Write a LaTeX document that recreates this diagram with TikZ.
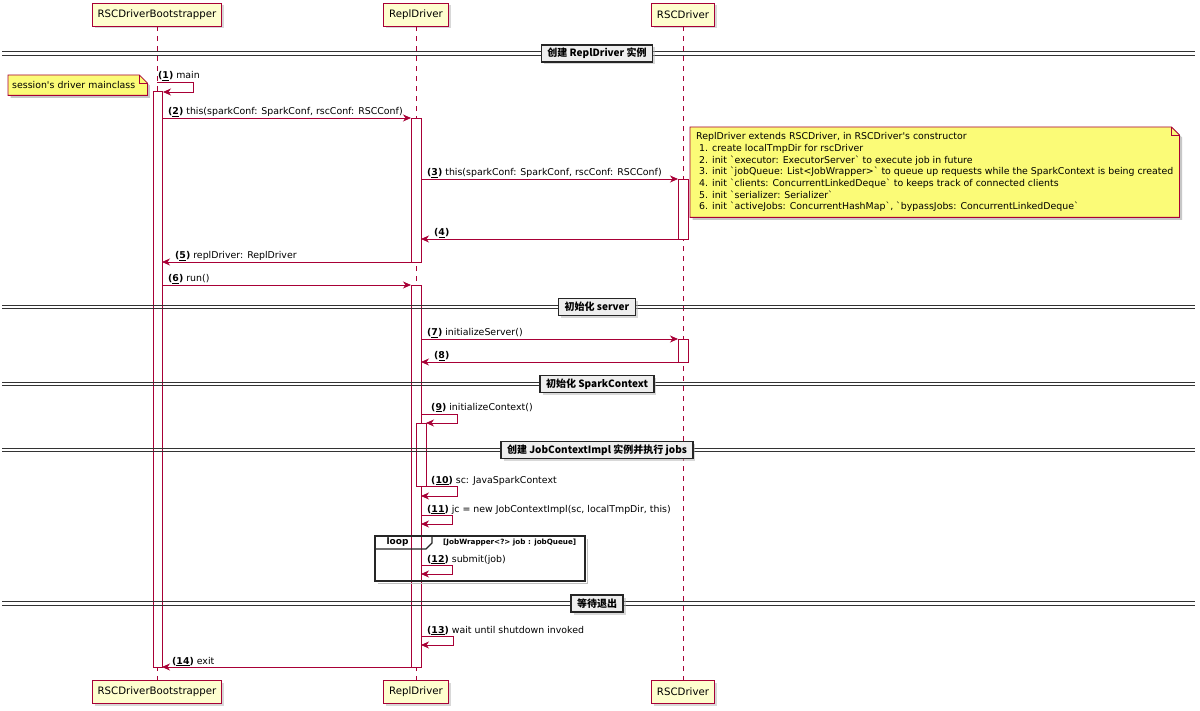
\documentclass[tikz,border=0pt]{standalone}
\usepackage{fontspec}
\setmainfont{DejaVu Sans}
\newfontfamily\cjk{Noto Sans CJK SC}
\usetikzlibrary{arrows.meta,shadows,backgrounds}
\definecolor{pu}{HTML}{A80036}
\definecolor{partfill}{HTML}{FEFECE}
\definecolor{notefill}{HTML}{FBFB77}
\definecolor{divfill}{HTML}{EEEEEE}
\newcommand\mnum[1]{\textbf{(\underline{#1})}}
\newcommand\mydivider[3]{%
  \draw[divln] (2,#1-1.6) -- (1195,#1-1.6);
  \draw[divln] (2,#1+1.6) -- (1195,#1+1.6);
  \node[divbx] (#2) at (597,#1) {#3};}
\newcommand\mynote[1]{%
  \begin{scope}[on background layer]
    \fill[black!22, transform canvas={xshift=2.5pt,yshift=-2.5pt}] (#1.north west) -- ([xshift=-8pt]#1.north east) -- ([yshift=-8pt]#1.north east) -- (#1.south east) -- (#1.south west) -- cycle;
    \filldraw[notebg] (#1.north west) -- ([xshift=-8pt]#1.north east) -- ([yshift=-8pt]#1.north east) -- (#1.south east) -- (#1.south west) -- cycle;
    \draw[notebg, fill=none] ([xshift=-8pt]#1.north east) |- ([yshift=-8pt]#1.north east);
  \end{scope}}
\begin{document}
\begin{tikzpicture}[x=1pt,y=-1pt,
  pbox/.style={draw=pu, fill=partfill, line width=0.9pt, font=\fontsize{10.2}{12}\selectfont,
    minimum height=23pt, inner xsep=5.5pt, drop shadow={shadow xshift=2.5pt, shadow yshift=-2.5pt, fill=black!30}},
  lifeln/.style={draw=pu, line width=0.6pt, dash pattern=on 5pt off 5pt},
  actbar/.style={draw=pu, fill=white, line width=0.8pt},
  msgarrow/.style={draw=pu, line width=0.8pt, -{Stealth[length=8pt,width=7pt,inset=2.5pt]}},
  msglbl/.style={font=\fontsize{9.4}{11}\selectfont, anchor=base west, inner sep=0pt},
  divln/.style={draw=black!80, line width=1pt},
  divbx/.style={draw=black!85, fill=divfill, line width=1.3pt, font=\cjk\bfseries\fontsize{10}{12}\selectfont,
    minimum height=17pt, inner xsep=6pt, inner ysep=1pt, drop shadow={shadow xshift=2.5pt, shadow yshift=-2.5pt, fill=black!30}},
  notebg/.style={draw=pu, fill=notefill, line width=0.8pt},
  notetx/.style={font=\fontsize{9.4}{11.7}\selectfont, inner ysep=3pt, align=left},
  loopfr/.style={draw=black!85, line width=1.4pt},
]
\begin{scope}[on background layer]
  \fill[white] (0,0) rectangle (1200,711);
\end{scope}
\useasboundingbox (0,0) rectangle (1200,711);

% participants
\node[pbox] (bt) at (157,14.5) {RSCDriverBootstrapper};
\node[pbox] (rt) at (416,14.5) {ReplDriver};
\node[pbox] (st) at (683,14.5) {RSCDriver};
\node[pbox] (bb) at (157,691.5) {RSCDriverBootstrapper};
\node[pbox] (rb) at (416,691.5) {ReplDriver};
\node[pbox] (sb) at (683,691.5) {RSCDriver};

% lifelines
\draw[lifeln] (bt.south) -- (bb.north);
\draw[lifeln] (rt.south) -- (rb.north);
\draw[lifeln] (st.south) -- (sb.north);

% activation bars
\draw[actbar] (153,91) rectangle (162,667);
\draw[actbar] (411,118) rectangle (421,262);
\draw[actbar] (411,285) rectangle (421,667);
\draw[actbar] (416,423) rectangle (426,486);
\draw[actbar] (678,179) rectangle (688,239);
\draw[actbar] (678,339) rectangle (688,362);

% dividers
\mydivider{53.5}{d1}{创建 ReplDriver 实例}
\mydivider{307}{d2}{初始化 server}
\mydivider{384}{d3}{初始化 SparkContext}
\mydivider{450}{d4}{创建 JobContextImpl 实例并执行 jobs}
\mydivider{603.5}{d5}{等待退出}

% notes
\node[notetx, anchor=north west, text width=131pt, inner xsep=4pt, minimum height=20pt] (n1) at (8,75) {session\textquotesingle s driver mainclass};
\mynote{n1}
\node[notetx, anchor=north west, inner xsep=6pt, minimum height=90pt] (n2) at (690,127) {%
ReplDriver extends RSCDriver, in RSCDriver\textquotesingle s constructor\\
\hspace*{3pt}1. create localTmpDir for rscDriver\\
\hspace*{3pt}2. init \textasciigrave executor: ExecutorServer\textasciigrave\ to execute job in future\\
\hspace*{3pt}3. init \textasciigrave jobQueue: List<JobWrapper>\textasciigrave\ to queue up requests while the SparkContext is being created\\
\hspace*{3pt}4. init \textasciigrave clients: ConcurrentLinkedDeque\textasciigrave\ to keeps track of connected clients\\
\hspace*{3pt}5. init \textasciigrave serializer: Serializer\textasciigrave\\
\hspace*{3pt}6. init \textasciigrave activeJobs: ConcurrentHashMap\textasciigrave, \textasciigrave bypassJobs: ConcurrentLinkedDeque\textasciigrave};
\mynote{n2}

% message endpoints
\coordinate (m1a) at (157,82);   \coordinate (m1b) at (163,92);
\coordinate (m2a) at (162,118);  \coordinate (m2b) at (411,118);
\coordinate (m3a) at (421,179);  \coordinate (m3b) at (678,179);
\coordinate (m4a) at (678,239);  \coordinate (m4b) at (421,239);
\coordinate (m5a) at (411,262);  \coordinate (m5b) at (162,262);
\coordinate (m6a) at (162,285);  \coordinate (m6b) at (411,285);
\coordinate (m7a) at (421,339);  \coordinate (m7b) at (678,339);
\coordinate (m8a) at (678,362);  \coordinate (m8b) at (421,362);
\coordinate (m9a) at (421,414);  \coordinate (m9b) at (426,423);
\coordinate (m10a) at (426,486); \coordinate (m10b) at (421,496);
\coordinate (m11a) at (421,515); \coordinate (m11b) at (421,524);
\coordinate (m12a) at (421,565); \coordinate (m12b) at (421,574);
\coordinate (m13a) at (421,636); \coordinate (m13b) at (421,645);
\coordinate (m14a) at (411,667); \coordinate (m14b) at (162,667);

% messages
\draw[msgarrow] (m1a) -- ++(36,0) |- (m1b);
\draw[msgarrow] (m2a) -- (m2b);
\draw[msgarrow] (m3a) -- (m3b);
\draw[msgarrow] (m4a) -- (m4b);
\draw[msgarrow] (m5a) -- (m5b);
\draw[msgarrow] (m6a) -- (m6b);
\draw[msgarrow] (m7a) -- (m7b);
\draw[msgarrow] (m8a) -- (m8b);
\draw[msgarrow] (m9a) -- ++(36,0) |- (m9b);
\draw[msgarrow] (m10a) -- ++(31,0) |- (m10b);
\draw[msgarrow] (m11a) -- ++(31,0) |- (m11b);
\draw[msgarrow] (m12a) -- ++(31,0) |- (m12b);
\draw[msgarrow] (m13a) -- ++(32,0) |- (m13b);
\draw[msgarrow] (m14a) -- (m14b);

% message labels
\node[msglbl] (l1) at (158,79) {\mnum{1} main};
\node[msglbl] (l2) at (168,115) {\mnum{2} this(sparkConf: SparkConf, rscConf: RSCConf)};
\node[msglbl] (l3) at (427,176) {\mnum{3} this(sparkConf: SparkConf, rscConf: RSCConf)};
\node[msglbl] (l4) at (434,236) {\mnum{4}};
\node[msglbl] (l5) at (175,259) {\mnum{5} replDriver: ReplDriver};
\node[msglbl] (l6) at (168,282) {\mnum{6} run()};
\node[msglbl] (l7) at (427,336) {\mnum{7} initializeServer()};
\node[msglbl] (l8) at (434,359) {\mnum{8}};
\node[msglbl] (l9) at (431,410) {\mnum{9} initializeContext()};
\node[msglbl] (l10) at (431,483) {\mnum{10} sc: JavaSparkContext};
\node[msglbl] (l11) at (427,512) {\mnum{11} jc = new JobContextImpl(sc, localTmpDir, this)};
\node[msglbl] (l12) at (427,562) {\mnum{12} submit(job)};
\node[msglbl] (l13) at (427,633) {\mnum{13} wait until shutdown invoked};
\node[msglbl] (l14) at (172,664) {\mnum{14} exit};

% loop frame
\draw[black!25, line width=1.4pt] (587.5,539) -- (587.5,583.5) -- (378,583.5);
\draw[loopfr] (375,536) rectangle (585,581);
\draw[loopfr] (375,549) -- (426,549) -- (432,543) -- (432,536);
\node[font=\bfseries\fontsize{9}{10}\selectfont, inner sep=0pt] (lp) at (397.5,542.5) {loop};
\node[font=\bfseries\fontsize{7.2}{8}\selectfont, anchor=west, inner sep=0pt] (lg) at (443,542.5) {[JobWrapper<?> job : jobQueue]};
\end{tikzpicture}
\end{document}
